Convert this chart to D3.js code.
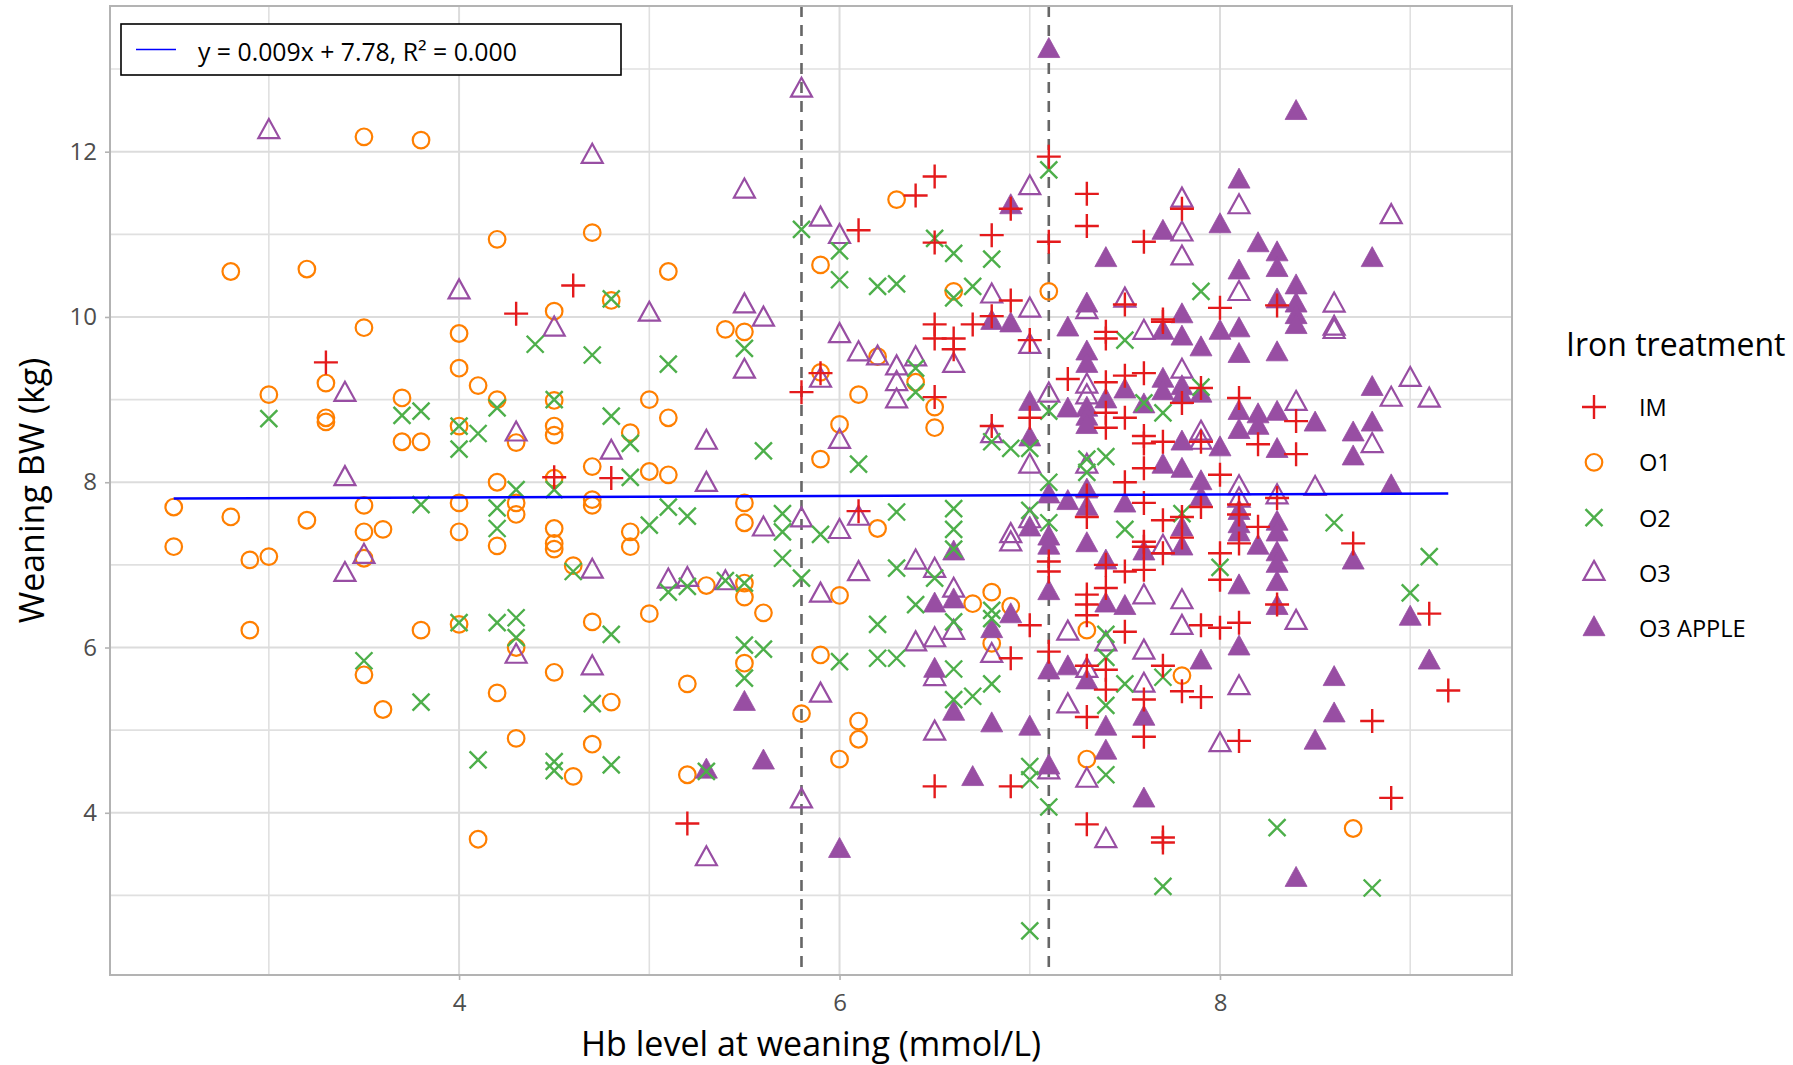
<!DOCTYPE html>
<html>
<head>
<meta charset="utf-8">
<script src="https://cdn.jsdelivr.net/npm/d3@7"></script>
<style>
  body { margin: 0; background: #fff; }
  svg text { font-family: "Open Sans", "Liberation Sans", Arial, sans-serif; }
</style>
</head>
<body>
<svg id="chart" width="1793" height="1065"></svg>
<script>
// treatment groups, in legend order
const groups = ["IM", "O1", "O2", "O3", "O3 APPLE"];
const groupColors = ["#e41a1c", "#ff7f00", "#4daf4a", "#984ea3", "#984ea3"];
const groupShapes = ["plus", "circle", "cross", "triangle", "triangleFilled"];

// [Hb level, weaning BW] per pig
const imPoints = [[3.3,9.45],[4.3,10.04],[4.5,8.06],[4.6,10.38],[4.8,8.05],[5.2,3.87],[5.8,9.09],[5.9,9.32],[6.1,11.05],[6.1,7.65],[6.4,11.47],[6.5,11.70],[6.5,10.90],[6.5,9.91],[6.5,9.74],[6.5,9.03],[6.5,4.32],[6.6,9.74],[6.6,9.61],[6.7,9.91],[6.8,10.99],[6.8,10.01],[6.8,8.68],[6.9,11.31],[6.9,10.20],[6.9,5.87],[6.9,4.32],[7.0,9.72],[7.0,8.78],[7.0,6.27],[7.1,11.94],[7.1,10.91],[7.1,7.04],[7.1,6.92],[7.1,5.95],[7.2,9.25],[7.3,11.49],[7.3,11.10],[7.3,7.84],[7.3,7.58],[7.3,6.64],[7.3,6.52],[7.3,6.39],[7.3,5.78],[7.3,5.16],[7.3,3.86],[7.4,9.82],[7.4,9.74],[7.4,9.21],[7.4,8.84],[7.4,8.66],[7.4,7.00],[7.4,6.72],[7.4,5.73],[7.4,5.49],[7.5,10.15],[7.5,9.29],[7.5,8.78],[7.5,8.00],[7.5,6.92],[7.5,6.19],[7.6,10.91],[7.6,9.32],[7.6,8.56],[7.6,8.47],[7.6,8.17],[7.6,7.75],[7.6,7.28],[7.6,7.22],[7.6,6.94],[7.6,5.37],[7.6,4.92],[7.7,9.97],[7.7,9.94],[7.7,8.49],[7.7,7.54],[7.7,7.14],[7.7,5.78],[7.7,3.70],[7.7,3.64],[7.8,11.31],[7.8,8.96],[7.8,7.58],[7.8,7.33],[7.8,5.47],[7.9,9.14],[7.9,8.49],[7.9,7.70],[7.9,6.27],[7.9,5.40],[8.0,10.11],[8.0,8.09],[8.0,7.14],[8.0,6.82],[8.0,6.24],[8.1,9.02],[8.1,7.73],[8.1,7.61],[8.1,7.26],[8.1,6.30],[8.1,4.87],[8.2,8.46],[8.2,7.46],[8.3,10.14],[8.3,7.81],[8.3,6.52],[8.4,8.74],[8.4,8.34],[8.7,7.26],[8.8,5.11],[8.9,4.18],[9.1,6.41],[9.2,5.48]];

const o1Points = [[2.5,7.70],[2.5,7.22],[2.8,10.55],[2.8,7.58],[2.9,7.06],[2.9,6.21],[3.0,9.06],[3.0,7.10],[3.2,10.58],[3.2,7.54],[3.3,9.20],[3.3,8.78],[3.3,8.73],[3.5,12.18],[3.5,9.87],[3.5,7.72],[3.5,7.40],[3.5,7.08],[3.5,5.67],[3.6,7.43],[3.6,5.25],[3.7,9.02],[3.7,8.49],[3.8,12.14],[3.8,8.49],[3.8,6.21],[4.0,9.80],[4.0,9.38],[4.0,8.68],[4.0,7.75],[4.0,7.40],[4.0,6.28],[4.1,9.17],[4.1,3.68],[4.2,10.94],[4.2,9.00],[4.2,8.00],[4.2,7.23],[4.2,5.45],[4.3,8.48],[4.3,7.75],[4.3,7.61],[4.3,6.00],[4.3,4.90],[4.5,10.07],[4.5,8.99],[4.5,8.68],[4.5,8.57],[4.5,8.05],[4.5,7.44],[4.5,7.26],[4.5,7.19],[4.5,5.70],[4.6,6.99],[4.6,4.44],[4.7,11.02],[4.7,8.19],[4.7,7.79],[4.7,7.72],[4.7,6.31],[4.7,4.83],[4.8,10.20],[4.8,5.34],[4.9,8.60],[4.9,7.40],[4.9,7.22],[5.0,9.00],[5.0,8.13],[5.0,6.41],[5.1,10.55],[5.1,8.78],[5.1,8.09],[5.2,5.56],[5.2,4.46],[5.3,6.75],[5.4,9.85],[5.5,9.82],[5.5,7.75],[5.5,7.51],[5.5,6.78],[5.5,6.61],[5.5,5.81],[5.6,6.42],[5.8,5.20],[5.9,10.63],[5.9,9.33],[5.9,8.28],[5.9,5.91],[6.0,8.70],[6.0,6.63],[6.0,4.65],[6.1,9.06],[6.1,5.11],[6.1,4.89],[6.2,9.52],[6.2,7.44],[6.3,11.42],[6.4,9.21],[6.5,8.91],[6.5,8.66],[6.6,10.31],[6.7,6.53],[6.8,6.67],[6.8,6.05],[6.9,6.50],[7.1,10.31],[7.3,6.21],[7.3,4.65],[7.8,5.66],[8.7,3.81]];

const o2Points = [[3.0,8.77],[3.5,5.84],[3.7,8.81],[3.8,8.86],[3.8,7.73],[3.8,5.34],[4.0,8.68],[4.0,8.40],[4.0,6.30],[4.1,8.59],[4.1,4.64],[4.2,8.90],[4.2,7.69],[4.2,7.44],[4.2,6.30],[4.3,7.91],[4.3,6.36],[4.3,6.12],[4.4,9.67],[4.5,9.00],[4.5,7.91],[4.5,4.62],[4.5,4.51],[4.6,6.92],[4.7,9.54],[4.7,5.32],[4.8,10.22],[4.8,8.80],[4.8,6.16],[4.8,4.58],[4.9,8.47],[4.9,8.06],[5.0,7.48],[5.1,9.43],[5.1,7.70],[5.1,6.67],[5.2,7.59],[5.2,6.74],[5.3,4.50],[5.4,6.81],[5.5,9.62],[5.5,6.78],[5.5,6.03],[5.5,5.63],[5.6,8.38],[5.6,5.98],[5.7,7.62],[5.7,7.40],[5.7,7.08],[5.8,11.06],[5.8,6.84],[5.9,7.37],[6.0,10.80],[6.0,10.45],[6.0,5.83],[6.1,8.22],[6.2,10.37],[6.2,6.28],[6.2,5.87],[6.3,10.40],[6.3,7.64],[6.3,6.96],[6.3,5.87],[6.4,9.38],[6.4,9.09],[6.4,6.52],[6.5,10.95],[6.5,6.84],[6.6,10.77],[6.6,10.23],[6.6,7.68],[6.6,7.43],[6.6,7.19],[6.6,6.31],[6.6,5.74],[6.6,5.37],[6.7,10.37],[6.7,5.41],[6.8,10.70],[6.8,8.49],[6.8,6.45],[6.8,6.35],[6.8,5.56],[6.9,8.41],[7.0,8.41],[7.0,7.66],[7.0,4.56],[7.0,4.40],[7.0,2.57],[7.1,11.78],[7.1,8.86],[7.1,8.00],[7.1,7.51],[7.1,4.07],[7.3,8.28],[7.3,8.12],[7.4,8.31],[7.4,6.16],[7.4,5.88],[7.4,5.30],[7.4,4.46],[7.5,9.72],[7.5,7.43],[7.5,5.56],[7.6,8.96],[7.7,8.84],[7.7,5.64],[7.7,3.11],[7.8,7.62],[7.9,10.31],[7.9,9.15],[8.0,6.97],[8.3,3.82],[8.6,7.51],[8.8,3.09],[9.0,6.66],[9.1,7.10]];

const o3Points = [[3.0,12.25],[3.4,9.07],[3.4,8.05],[3.4,6.89],[3.5,7.11],[4.0,10.31],[4.3,8.59],[4.3,5.90],[4.5,9.86],[4.7,11.95],[4.7,6.93],[4.7,5.76],[4.8,8.37],[5.0,10.04],[5.1,6.81],[5.2,6.83],[5.3,8.49],[5.3,7.98],[5.3,3.45],[5.4,6.79],[5.5,11.53],[5.5,10.14],[5.5,9.35],[5.6,9.98],[5.6,7.44],[5.8,12.75],[5.8,7.55],[5.8,4.15],[5.9,11.19],[5.9,9.24],[5.9,6.64],[5.9,5.43],[6.0,10.98],[6.0,9.78],[6.0,8.50],[6.0,7.41],[6.1,9.56],[6.1,7.57],[6.1,6.90],[6.2,9.51],[6.3,9.39],[6.3,9.20],[6.3,8.99],[6.4,9.50],[6.4,7.04],[6.4,6.05],[6.5,6.94],[6.5,6.10],[6.5,5.63],[6.5,4.97],[6.6,9.42],[6.6,6.70],[6.6,6.19],[6.8,10.26],[6.8,8.57],[6.8,5.91],[6.9,7.36],[6.9,7.26],[7.0,11.57],[7.0,10.09],[7.0,9.65],[7.0,8.20],[7.0,7.54],[7.1,9.06],[7.1,4.50],[7.2,6.18],[7.2,5.30],[7.3,10.07],[7.3,9.17],[7.3,9.04],[7.3,8.20],[7.3,5.73],[7.3,4.40],[7.4,6.05],[7.4,3.67],[7.5,10.21],[7.6,9.82],[7.6,6.62],[7.6,5.95],[7.6,5.55],[7.7,7.22],[7.8,11.42],[7.8,11.01],[7.8,10.72],[7.8,9.35],[7.8,6.56],[7.8,6.25],[7.9,8.60],[7.9,8.49],[8.0,4.83],[8.1,11.34],[8.1,10.29],[8.1,7.94],[8.1,7.79],[8.1,5.52],[8.3,7.83],[8.4,8.96],[8.4,6.31],[8.5,7.93],[8.6,10.15],[8.6,9.87],[8.6,9.83],[8.8,8.45],[8.9,11.22],[8.9,9.01],[9.0,9.25],[9.1,9.00]];

const o3ApplePoints = [[5.3,4.51],[5.5,5.33],[5.6,4.62],[6.0,3.55],[6.5,6.52],[6.5,5.73],[6.6,7.15],[6.6,6.57],[6.6,5.21],[6.7,4.42],[6.8,9.94],[6.8,6.21],[6.8,5.07],[6.9,11.34],[6.9,9.91],[6.9,6.39],[7.0,8.96],[7.0,8.53],[7.0,7.44],[7.0,5.03],[7.1,13.23],[7.1,7.84],[7.1,7.33],[7.1,7.22],[7.1,6.67],[7.1,5.71],[7.1,4.56],[7.2,9.86],[7.2,8.88],[7.2,7.76],[7.2,5.76],[7.3,10.15],[7.3,9.57],[7.3,9.42],[7.3,8.89],[7.3,8.78],[7.3,8.68],[7.3,7.90],[7.3,7.69],[7.3,7.25],[7.3,5.59],[7.4,10.70],[7.4,8.99],[7.4,7.04],[7.4,6.52],[7.4,5.03],[7.4,4.74],[7.5,9.11],[7.5,7.73],[7.5,6.49],[7.6,8.93],[7.6,7.15],[7.6,5.15],[7.6,4.16],[7.7,11.03],[7.7,9.82],[7.7,9.24],[7.7,9.09],[7.7,8.20],[7.8,10.02],[7.8,9.75],[7.8,9.15],[7.8,9.04],[7.8,8.48],[7.8,8.15],[7.8,7.44],[7.8,7.21],[7.9,9.62],[7.9,9.06],[7.9,8.00],[7.9,7.81],[7.9,5.83],[8.0,11.11],[8.0,9.82],[8.0,8.41],[8.1,11.65],[8.1,10.55],[8.1,9.85],[8.1,9.54],[8.1,8.85],[8.1,8.62],[8.1,7.64],[8.1,7.48],[8.1,7.38],[8.1,6.74],[8.1,6.00],[8.2,10.88],[8.2,8.81],[8.2,8.67],[8.2,7.22],[8.3,10.77],[8.3,10.58],[8.3,10.20],[8.3,9.56],[8.3,8.84],[8.3,8.39],[8.3,7.51],[8.3,7.38],[8.3,7.14],[8.3,7.00],[8.3,6.78],[8.3,6.49],[8.4,12.48],[8.4,10.37],[8.4,10.15],[8.4,10.01],[8.4,9.89],[8.4,3.20],[8.5,8.71],[8.5,4.86],[8.6,5.63],[8.6,5.19],[8.7,8.59],[8.7,8.30],[8.7,7.04],[8.8,10.70],[8.8,9.14],[8.8,8.71],[8.9,7.95],[9.0,6.36],[9.1,5.83]];

const groupPoints = [imPoints, o1Points, o2Points, o3Points, o3ApplePoints];

// fitted line and the two Hb cut-offs
const fitSlope = 0.009;
const fitIntercept = 7.78;
const fitLabel = "y = 0.009x + 7.78, R\u00B2 = 0.000";
const cutoffs = [5.8, 7.1];

const xMajor = [4, 6, 8];
const xMinor = [3, 5, 7, 9];
const yMajor = [4, 6, 8, 10, 12];
const yMinor = [3, 5, 7, 9, 11, 13];

const panel = { left: 110, right: 1512, top: 6, bottom: 975 };
const svg = d3.select("#chart");

const allPoints = groupPoints.flat();
const xExt = d3.extent(allPoints, d => d[0]);
const yExt = d3.extent(allPoints, d => d[1]);
const xPad = (xExt[1] - xExt[0]) * 0.05;
const yPad = (yExt[1] - yExt[0]) * 0.05;

const x = d3.scaleLinear().domain([xExt[0] - xPad, xExt[1] + xPad]).range([panel.left, panel.right]);
const y = d3.scaleLinear().domain([yExt[0] - yPad, yExt[1] + yPad]).range([panel.bottom, panel.top]);

// grid
const grid = svg.append("g");
grid.selectAll(".vmin").data(xMinor).join("line")
    .attr("x1", d => x(d)).attr("x2", d => x(d))
    .attr("y1", panel.top).attr("y2", panel.bottom)
    .attr("stroke", "#e0e0e0").attr("stroke-width", 1.6);
grid.selectAll(".hmin").data(yMinor).join("line")
    .attr("y1", d => y(d)).attr("y2", d => y(d))
    .attr("x1", panel.left).attr("x2", panel.right)
    .attr("stroke", "#e0e0e0").attr("stroke-width", 1.6);
grid.selectAll(".vmaj").data(xMajor).join("line")
    .attr("x1", d => x(d)).attr("x2", d => x(d))
    .attr("y1", panel.top).attr("y2", panel.bottom)
    .attr("stroke", "#dcdcdc").attr("stroke-width", 2);
grid.selectAll(".hmaj").data(yMajor).join("line")
    .attr("y1", d => y(d)).attr("y2", d => y(d))
    .attr("x1", panel.left).attr("x2", panel.right)
    .attr("stroke", "#dcdcdc").attr("stroke-width", 2);

// axes
const xAxis = d3.axisBottom(x).tickValues(xMajor).tickSize(5).tickPadding(14);
const yAxis = d3.axisLeft(y).tickValues(yMajor).tickSize(5).tickPadding(8);

const gx = svg.append("g").attr("transform", `translate(0,${panel.bottom})`).call(xAxis);
const gy = svg.append("g").attr("transform", `translate(${panel.left},0)`).call(yAxis);
[gx, gy].forEach(g => {
    g.select(".domain").remove();
    g.selectAll(".tick line").attr("stroke", "#b3b3b3").attr("stroke-width", 1.6);
    g.selectAll(".tick text").attr("fill", "#4d4d4d").style("font-size", "24px");
});

// cut-off lines
svg.append("g").selectAll("line").data(cutoffs).join("line")
    .attr("x1", d => x(d)).attr("x2", d => x(d))
    .attr("y1", panel.top).attr("y2", panel.bottom)
    .attr("stroke", "#666666").attr("stroke-width", 2.6)
    .attr("stroke-dasharray", "11,8");

// marker shapes
function drawShape(sel, shape, color) {
    if (shape === "circle") {
        sel.append("circle").attr("r", 8.3).attr("fill", "none")
            .attr("stroke", color).attr("stroke-width", 2.2);
    } else if (shape === "plus") {
        sel.append("path").attr("d", "M-12,0H12M0,-12V12")
            .attr("stroke", color).attr("stroke-width", 2.4).attr("fill", "none");
    } else if (shape === "cross") {
        sel.append("path").attr("d", "M-8.5,-8.5L8.5,8.5M-8.5,8.5L8.5,-8.5")
            .attr("stroke", color).attr("stroke-width", 2.4).attr("fill", "none");
    } else if (shape === "triangle") {
        sel.append("path").attr("d", "M0,-12L10.5,7L-10.5,7Z").attr("fill", "none")
            .attr("stroke", color).attr("stroke-width", 2.2);
    } else {
        sel.append("path").attr("d", "M0,-12.5L11,7.5L-11,7.5Z").attr("fill", color)
            .attr("stroke", color).attr("stroke-width", 0.8);
    }
}

// points, drawn group by group
const drawOrder = [1, 3, 4, 2, 0];
const pts = svg.append("g");
drawOrder.forEach(gi => {
    pts.append("g").selectAll("g").data(groupPoints[gi]).join("g")
        .attr("transform", d => `translate(${x(d[0])},${y(d[1])})`)
        .each(function () { drawShape(d3.select(this), groupShapes[gi], groupColors[gi]); });
});

// fitted line over the data range
svg.append("line")
    .attr("x1", x(xExt[0])).attr("y1", y(fitIntercept + fitSlope * xExt[0]))
    .attr("x2", x(xExt[1])).attr("y2", y(fitIntercept + fitSlope * xExt[1]))
    .attr("stroke", "#0000ff").attr("stroke-width", 2.6);

// panel border
svg.append("rect")
    .attr("x", panel.left).attr("y", panel.top)
    .attr("width", panel.right - panel.left).attr("height", panel.bottom - panel.top)
    .attr("fill", "none").attr("stroke", "#b3b3b3").attr("stroke-width", 2);

// fit label box
const box = svg.append("g").attr("transform", "translate(121,24)");
box.append("rect").attr("width", 500).attr("height", 51)
    .attr("fill", "#fff").attr("stroke", "#000").attr("stroke-width", 1.6);
box.append("line").attr("x1", 15).attr("x2", 55).attr("y1", 25.5).attr("y2", 25.5)
    .attr("stroke", "#0000ff").attr("stroke-width", 1.6);
box.append("text").attr("x", 77).attr("y", 37).attr("fill", "#000")
    .style("font-size", "24.8px").text(fitLabel);

// axis titles
svg.append("text").attr("x", (panel.left + panel.right) / 2).attr("y", 1056)
    .attr("text-anchor", "middle").attr("fill", "#000").style("font-size", "34px")
    .text("Hb level at weaning (mmol/L)");
svg.append("text")
    .attr("transform", `translate(44,${(panel.top + panel.bottom) / 2}) rotate(-90)`)
    .attr("text-anchor", "middle").attr("fill", "#000").style("font-size", "34px")
    .text("Weaning BW (kg)");

// legend
const legend = svg.append("g").attr("transform", "translate(1566,0)");
legend.append("text").attr("x", 0).attr("y", 356).attr("fill", "#000")
    .style("font-size", "32px").text("Iron treatment");
groups.forEach((name, i) => {
    const row = legend.append("g").attr("transform", `translate(0,${407 + i * 55.3})`);
    const sym = row.append("g").attr("transform", "translate(28,0)");
    drawShape(sym, groupShapes[i], groupColors[i]);
    row.append("text").attr("x", 73).attr("y", 9).attr("fill", "#000")
        .style("font-size", "23.6px").text(name);
});
</script>
</body>
</html>
